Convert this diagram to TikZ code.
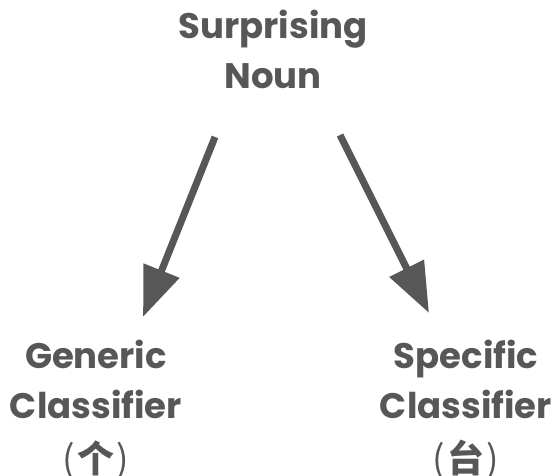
\documentclass[tikz,border=0pt]{standalone}
\usepackage{fontspec}
\setmainfont{Poppins}
\newfontfamily\cjk{Noto Sans CJK SC}
\usetikzlibrary{arrows.meta}
\definecolor{ink}{HTML}{575757}
\tikzset{
  lbl/.style={text=ink, font=\fontsize{35.5}{50}\selectfont\bfseries, align=center, inner sep=0pt, anchor=base},
  arr/.style={draw=ink, line width=7pt, -{Triangle[length=50pt,width=37pt]}},
}
% classifier in light parentheses, character itself heavier
\newcommand{\zh}[1]{{\fontsize{37}{50}\selectfont\cjk\mdseries (\hspace{2pt}{\bfseries #1}\hspace{2pt})}}
\begin{document}
\begin{tikzpicture}[x=1pt,y=-1pt]
  \useasboundingbox (0,0) rectangle (552,476);
  % labels (anchored at the baseline of their last line)
  \node[lbl] (noun) at (273,89) {Surprising\\Noun};
  \node[lbl] (gen) at (96,472) {Generic\\Classifier\\[4pt]\zh{个}};
  \node[lbl] (spec) at (466,472) {Specific\\Classifier\\[4pt]\zh{台}};
  % arrow end points
  \coordinate (ls) at (215,137);
  \coordinate (le) at (143,317);
  \coordinate (rs) at (340,135);
  \coordinate (re) at (429,313);
  \draw[arr] (ls) -- (le);
  \draw[arr] (rs) -- (re);
\end{tikzpicture}
\end{document}
